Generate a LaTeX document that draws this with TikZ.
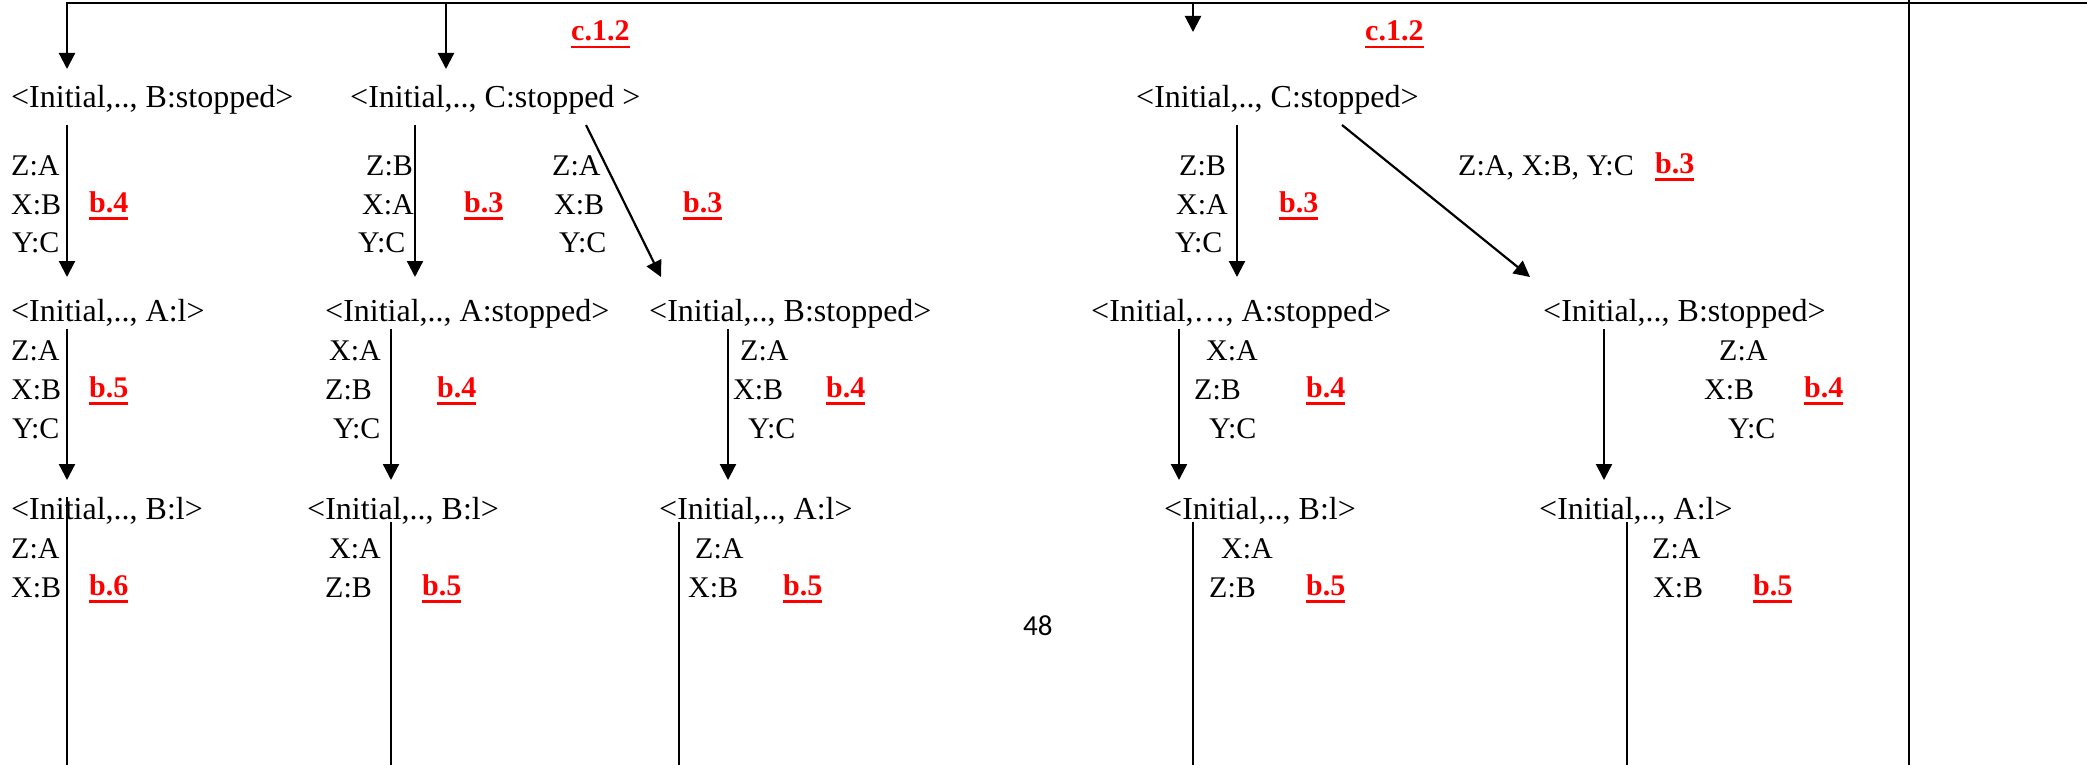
\documentclass[tikz,border=0pt]{standalone}
\usepackage{fontspec}
\setmainfont{Liberation Serif}
\newfontfamily\pgnumfont{Carlito}
\usetikzlibrary{arrows.meta,calc}
\newcommand{\ulred}[1]{\setbox0=\hbox{#1}\rlap{\raisebox{-7.5pt}{\rule{\wd0}{2.5pt}}}\box0}
\begin{document}
\begin{tikzpicture}[x=1pt,y=-1pt,
  st/.style={anchor=base west, inner sep=0pt, yshift=-3pt, text height=22pt, text depth=7pt, font=\fontsize{32}{38}\selectfont},
  lab/.style={anchor=base west, inner sep=0pt, yshift=-3pt, font=\fontsize{30}{36}\selectfont},
  ref/.style={anchor=base west, inner sep=0pt, yshift=-3pt, text=red, font=\fontsize{30}{36}\selectfont\bfseries},
  arr/.style={line width=2.2pt, -{Triangle[length=16pt,width=16pt]}},
  ln/.style={line width=2.2pt}]
\useasboundingbox (0,0) rectangle (2087,765);
\coordinate (bottom) at (0,765);
% state nodes
\node[st] (n11) at (11,105) {<Initial,.., B:stopped>};
\node[st] (n12) at (350,105) {<Initial,.., C:stopped >};
\node[st] (n13) at (1136,105) {<Initial,.., C:stopped>};
\node[st] (n21) at (11,318) {<Initial,.., A:l>};
\node[st] (n22) at (325,318) {<Initial,.., A:stopped>};
\node[st] (n23) at (649,318) {<Initial,.., B:stopped>};
\node[st] (n24) at (1091,318) {<Initial,…, A:stopped>};
\node[st] (n25) at (1543,318) {<Initial,.., B:stopped>};
\node[st] (n31) at (11,516) {<Initial,.., B:l>};
\node[st] (n32) at (307,516) {<Initial,.., B:l>};
\node[st] (n33) at (659,516) {<Initial,.., A:l>};
\node[st] (n34) at (1164,516) {<Initial,.., B:l>};
\node[st] (n35) at (1539,516) {<Initial,.., A:l>};
% top frame
\coordinate (t0) at (67,3);
\coordinate (t1) at (446,3);
\coordinate (t2) at (1193,3);
\coordinate (tE) at (2087,3);
\coordinate (r0) at (1909,0);
\coordinate (r1) at (1909,765);
\draw[arr] (tE) -- (t0) -- ($(n11.base west)+(56,-39)$);
\draw[arr] (t1) -- ($(n12.base west)+(96,-39)$);
\draw[arr] (t2) -- ++(0,29);
\draw[ln] (r0) -- (r1);
\node[ref] (c1) at (571,38) {\ulred{c.1.2}};
\node[ref] (c2) at (1365,38) {\ulred{c.1.2}};
% row 1 -> row 2
\draw[arr] ($(n11.base west)+(56,17)$) -- ($(n21.base west)+(56,-44)$);
\draw[arr] ($(n12.base west)+(65,17)$) -- ($(n22.base west)+(90,-44)$);
\draw[arr] ($(n12.base west)+(236,17)$) -- ($(n23.base west)+(12,-44)$);
\draw[arr] ($(n13.base west)+(101,17)$) -- ($(n24.base west)+(146,-44)$);
\draw[arr] ($(n13.base west)+(206,17)$) -- ($(n25.base west)+(-13,-44)$);
\node[lab] (a1) at (11,172) {Z:A};
\node[lab] (a2) at (11,211) {X:B};
\node[lab] (a3) at (12,249) {Y:C};
\node[ref] (ar) at (89,209) {\ulred{b.4}};
\node[lab] (b1) at (366,172) {Z:B};
\node[lab] (b2) at (362,211) {X:A};
\node[lab] (b3) at (358,249) {Y:C};
\node[ref] (br) at (464,209) {\ulred{b.3}};
\node[lab] (c1a) at (552,172) {Z:A};
\node[lab] (c2a) at (554,211) {X:B};
\node[lab] (c3a) at (559,249) {Y:C};
\node[ref] (cr) at (683,209) {\ulred{b.3}};
\node[lab] (d1) at (1179,172) {Z:B};
\node[lab] (d2) at (1176,211) {X:A};
\node[lab] (d3) at (1175,249) {Y:C};
\node[ref] (dr) at (1279,209) {\ulred{b.3}};
\node[lab] (e1) at (1458,172) {Z:A, X:B, Y:C};
\node[ref] (er) at (1655,170) {\ulred{b.3}};
% row 2 -> row 3
\draw[arr] ($(n21.base west)+(56,8)$) -- ($(n31.base west)+(56,-39)$);
\draw[arr] ($(n22.base west)+(66,8)$) -- ($(n32.base west)+(84,-39)$);
\draw[arr] ($(n23.base west)+(79,8)$) -- ($(n33.base west)+(69,-39)$);
\draw[arr] ($(n24.base west)+(88,8)$) -- ($(n34.base west)+(15,-39)$);
\draw[arr] ($(n25.base west)+(61,8)$) -- ($(n35.base west)+(65,-39)$);
\node[lab] (f1) at (11,357) {Z:A};
\node[lab] (f2) at (11,396) {X:B};
\node[lab] (f3) at (12,435) {Y:C};
\node[ref] (fr) at (89,394) {\ulred{b.5}};
\node[lab] (g1) at (329,357) {X:A};
\node[lab] (g2) at (325,396) {Z:B};
\node[lab] (g3) at (333,435) {Y:C};
\node[ref] (gr) at (437,394) {\ulred{b.4}};
\node[lab] (h1) at (740,357) {Z:A};
\node[lab] (h2) at (733,396) {X:B};
\node[lab] (h3) at (748,435) {Y:C};
\node[ref] (hr) at (826,394) {\ulred{b.4}};
\node[lab] (i1) at (1206,357) {X:A};
\node[lab] (i2) at (1194,396) {Z:B};
\node[lab] (i3) at (1209,435) {Y:C};
\node[ref] (ir) at (1306,394) {\ulred{b.4}};
\node[lab] (j1) at (1719,357) {Z:A};
\node[lab] (j2) at (1704,396) {X:B};
\node[lab] (j3) at (1728,435) {Y:C};
\node[ref] (jr) at (1804,394) {\ulred{b.4}};
% row 3 -> bottom
\draw[ln] ($(n31.base west)+(56,-22)$) coordinate (s1) -- (s1 |- bottom);
\draw[ln] ($(n32.base west)+(84,3)$) coordinate (s2) -- (s2 |- bottom);
\draw[ln] ($(n33.base west)+(20,3)$) coordinate (s3) -- (s3 |- bottom);
\draw[ln] ($(n34.base west)+(29,3)$) coordinate (s4) -- (s4 |- bottom);
\draw[ln] ($(n35.base west)+(88,3)$) coordinate (s5) -- (s5 |- bottom);
\node[lab] (k1) at (11,555) {Z:A};
\node[lab] (k2) at (11,594) {X:B};
\node[ref] (kr) at (89,592) {\ulred{b.6}};
\node[lab] (l1) at (329,555) {X:A};
\node[lab] (l2) at (325,594) {Z:B};
\node[ref] (lr) at (422,592) {\ulred{b.5}};
\node[lab] (m1) at (695,555) {Z:A};
\node[lab] (m2) at (688,594) {X:B};
\node[ref] (mr) at (783,592) {\ulred{b.5}};
\node[lab] (o1) at (1221,555) {X:A};
\node[lab] (o2) at (1209,594) {Z:B};
\node[ref] (or) at (1306,592) {\ulred{b.5}};
\node[lab] (p1) at (1652,555) {Z:A};
\node[lab] (p2) at (1653,594) {X:B};
\node[ref] (pr) at (1753,592) {\ulred{b.5}};
\node[anchor=base west, inner sep=0pt, font=\pgnumfont\fontsize{29}{34}\selectfont] (pg) at (1023,635) {48};
\end{tikzpicture}
\end{document}
